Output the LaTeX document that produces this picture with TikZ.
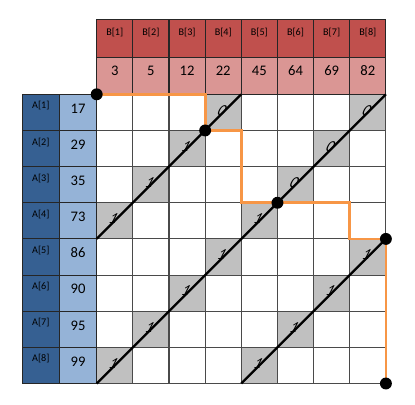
\documentclass[tikz,border=0pt]{standalone}
\usepackage{fontspec}
\setmainfont{Carlito}
\definecolor{bdark}{HTML}{C0504D}
\definecolor{blight}{HTML}{DA9694}
\definecolor{adark}{HTML}{366092}
\definecolor{alight}{HTML}{95B3D7}
\definecolor{grayc}{HTML}{C0C0C0}
\definecolor{gridc}{HTML}{4A4A4A}
\definecolor{orangec}{HTML}{F79646}
\begin{document}
\begin{tikzpicture}[x=1cm,y=1cm,
  hcell/.style={draw=black!85, line width=0.8pt, inner sep=0pt},
  bcell/.style={hcell, minimum width=1cm, minimum height=1.03cm},
  acell/.style={hcell, minimum width=1.03cm, minimum height=1cm},
  gcell/.style={fill=grayc, draw=none, minimum size=1cm, inner sep=0pt},
  smalltxt/.style={font=\fontsize{8}{9}\selectfont, inner sep=0pt},
  valtxt/.style={font=\fontsize{11.5}{13}\selectfont, inner sep=0pt},
  bittxt/.style={font=\fontsize{12}{14}\selectfont, inner sep=0pt, xslant=0.5},
  diag/.style={line width=1.8pt, black},
  opath/.style={line width=2.2pt, orangec},
  dot/.style={circle, fill=black, minimum size=0.33cm, inner sep=0pt}
]
\useasboundingbox (-2.675,-8.567) rectangle (8.805,2.609);

% gray cells (row, column, bit)
\foreach \r/\c/\b in {1/4/0,1/8/0,2/3/1,2/7/0,3/2/1,3/6/0,4/1/1,4/5/1,
                      5/4/1,5/8/1,6/3/1,6/7/1,7/2/1,7/6/1,8/1/1,8/5/1} {
  \node[gcell] (g\r-\c) at (\c-0.5,-\r+0.5) {};
}
% grid
\draw[gridc, line width=0.8pt] (0,0) grid (8,-8);

% B header
\foreach \v [count=\j] in {3,5,12,22,45,64,69,82} {
  \node[bcell, fill=bdark] (bl\j) at (\j-0.5,1.545) {};
  \node[bcell, fill=blight] (bv\j) at (\j-0.5,0.515) {};
  \node[smalltxt] (blt\j) at (\j-0.5,1.72) {B[\j]};
  \node[valtxt] (bvt\j) at (\j-0.5,0.65) {\v};
}
% A header
\foreach \v [count=\i] in {17,29,35,73,86,90,95,99} {
  \node[acell, fill=adark] (al\i) at (-1.545,-\i+0.5) {};
  \node[acell, fill=alight] (av\i) at (-0.515,-\i+0.5) {};
  \node[smalltxt] (alt\i) at (-1.545,-\i+0.68) {A[\i]};
  \node[valtxt] (avt\i) at (-0.515,-\i+0.61) {\v};
}

% bit labels
\foreach \r/\c/\b in {1/4/0,1/8/0,2/3/1,2/7/0,3/2/1,3/6/0,4/1/1,4/5/1,
                      5/4/1,5/8/1,6/3/1,6/7/1,7/2/1,7/6/1,8/1/1,8/5/1} {
  \node[bittxt] (t\r-\c) at ([shift={(-0.02,0.06)}]g\r-\c.center) {\b};
}

% diagonals
\coordinate (d1a) at (0,-4); \coordinate (d1b) at (4,0);
\coordinate (d2a) at (0,-8); \coordinate (d2b) at (8,0);
\coordinate (d3a) at (4,-8); \coordinate (d3b) at (8,-4);
\draw[diag] (d1a) -- (d1b);
\draw[diag] (d2a) -- (d2b);
\draw[diag] (d3a) -- (d3b);

% orange path
\coordinate (p0) at (0,0);
\coordinate (p1) at (3,-1);
\coordinate (p2) at (5,-3);
\coordinate (p3) at (8,-4);
\coordinate (p4) at (8,-8);
\coordinate (c1) at (4,-1);
\coordinate (c2) at (7,-3);
\draw[opath] (p0) -| (p1) -- (c1) |- (p2) -- (c2) |- (p3) -- (p4);

% dots
\foreach \p in {p0,p1,p2,p3,p4} {
  \node[dot] (n\p) at (\p) {};
}
\end{tikzpicture}
\end{document}
